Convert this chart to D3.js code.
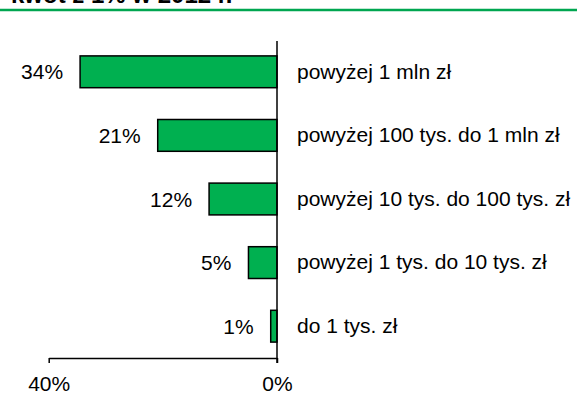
<!DOCTYPE html>
<html>
<head>
<meta charset="utf-8">
<script src="https://cdn.jsdelivr.net/npm/d3@7"></script>
<style>
  html, body { margin: 0; padding: 0; background: #fff; }
  svg { display: block; font-family: Arial, "Liberation Sans", sans-serif; }
</style>
</head>
<body>
<svg id="chart" width="577" height="417"></svg>
<script>
const titleText = "kwot z 1% w 2012 r.";
const categories = [
  "powyżej 1 mln zł",
  "powyżej 100 tys. do 1 mln zł",
  "powyżej 10 tys. do 100 tys. zł",
  "powyżej 1 tys. do 10 tys. zł",
  "do 1 tys. zł"
];
const values = [34.5, 20.9, 11.9, 5.0, 1.1];
const valueLabels = ["34%", "21%", "12%", "5%", "1%"];
const tickValues = [0, 40];

const FONT = "Arial, 'Liberation Sans', sans-serif";
const svg = d3.select("#chart");

// Title (cut off at top, as in the reference) and green rule
svg.append("text")
  .attr("x", 11)
  .attr("y", 3)
  .attr("font-size", 24)
  .attr("font-weight", "bold")
  .attr("fill", "#000")
  .text(titleText);
svg.append("line")
  .attr("x1", 0).attr("x2", 577)
  .attr("y1", 10).attr("y2", 10)
  .attr("stroke", "#00A650")
  .attr("stroke-width", 2.5);

const x = d3.scaleLinear().domain([0, 40]).range([277, 48.7]);
const y = d3.scaleBand().domain(categories).range([40, 358])
  .paddingInner(0.5).paddingOuter(0.25);

const data = categories.map((c, i) => ({ c, v: values[i], l: valueLabels[i] }));

// Bars
svg.append("g").selectAll("rect").data(data).join("rect")
  .attr("x", d => x(d.v))
  .attr("y", d => y(d.c))
  .attr("width", d => x(0) - x(d.v))
  .attr("height", y.bandwidth())
  .attr("fill", "#00B050")
  .attr("stroke", "#000")
  .attr("stroke-width", 1.5);

// Value labels
svg.append("g").selectAll("text").data(data).join("text")
  .attr("x", d => x(d.v) - 17)
  .attr("y", d => y(d.c) + y.bandwidth() / 2 + 7.5)
  .attr("text-anchor", "end")
  .attr("font-size", 21)
  .attr("fill", "#000")
  .text(d => d.l);

// Category axis (vertical line at 0 with labels to the right)
const yAxis = svg.append("g")
  .attr("transform", `translate(${x(0)},0)`)
  .call(d3.axisRight(y).tickSize(0).tickPadding(20));
yAxis.select(".domain").remove();
yAxis.selectAll("text")
  .attr("font-size", 21)
  .attr("fill", "#000")
  .attr("font-family", FONT);

svg.append("line")
  .attr("x1", x(0)).attr("x2", x(0))
  .attr("y1", y.range()[0] + 1).attr("y2", y.range()[1] + 5)
  .attr("stroke", "#000")
  .attr("stroke-width", 1.5);

// Value axis (bottom)
const xAxis = svg.append("g")
  .attr("transform", `translate(0,${y.range()[1]})`)
  .call(d3.axisBottom(x).tickValues(tickValues).tickSize(5).tickSizeOuter(0)
    .tickPadding(13).tickFormat(d => d + "%"));
xAxis.select(".domain").attr("stroke", "#000").attr("stroke-width", 1.5);
xAxis.selectAll(".tick line").attr("stroke", "#000").attr("stroke-width", 1.5);
xAxis.selectAll("text")
  .attr("font-size", 21)
  .attr("fill", "#000")
  .attr("font-family", FONT);
</script>
</body>
</html>
